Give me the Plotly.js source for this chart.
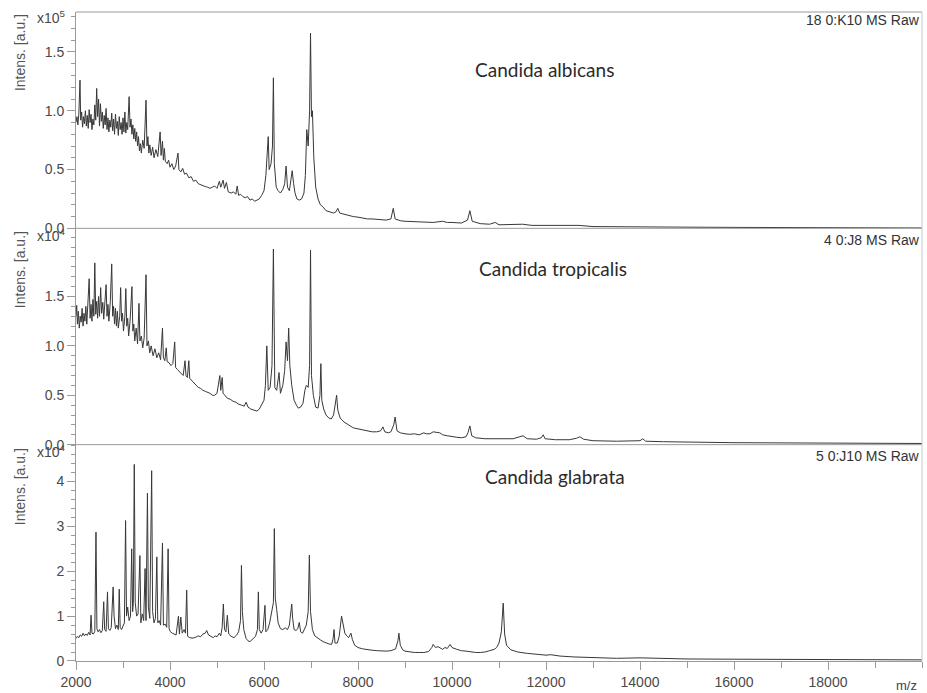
<!DOCTYPE html>
<html>
<head>
<meta charset="utf-8">
<script src="https://cdn.plot.ly/plotly-3.0.1.min.js"></script>
<style>html,body{margin:0;padding:0;background:#fff;}#chart{width:927px;height:693px;}</style>
</head>
<body>
<div id="chart"></div>
<script>
// ---- Data (m/z vs intensity, intensity in units of the panel exponent) ----
const albicansMz = [2000,2020,2040,2060,2085,2100,2120,2140,2160,2180,2200,2220,2240,2260,2280,2300,2320,2340,2360,2380,2400,2420,2440,2460,2480,2500,2520,2540,2560,2580,2600,2620,2640,2660,2680,2700,2720,2740,2760,2780,2800,2820,2840,2860,2880,2900,2920,2940,2960,2980,3000,3020,3040,3060,3080,3100,3130,3150,3170,3190,3210,3230,3250,3270,3290,3310,3330,3350,3370,3390,3420,3450,3490,3510,3530,3550,3570,3600,3630,3660,3700,3740,3790,3810,3840,3860,3880,3900,3940,3970,4000,4040,4080,4120,4170,4190,4230,4270,4310,4350,4400,4450,4500,4550,4600,4650,4700,4750,4800,4850,4900,4950,5000,5050,5080,5130,5160,5200,5240,5300,5350,5400,5430,5460,5500,5550,5600,5650,5700,5750,5800,5850,5900,5950,6000,6040,6070,6090,6110,6150,6180,6200,6220,6260,6300,6350,6400,6440,6470,6500,6540,6570,6600,6630,6660,6700,6750,6800,6850,6880,6910,6940,6970,6990,7010,7030,7060,7100,7150,7200,7260,7320,7400,7480,7530,7570,7610,7700,7800,7900,8000,8100,8200,8300,8400,8500,8600,8700,8750,8790,8900,9000,9200,9400,9600,9800,9900,10000,10200,10330,10380,10430,10600,10800,10920,11000,11200,11500,11700,12000,12400,12700,13000,13500,14000,15000,16000,17000,18000,19000,20000];
const albicansInt = [0.90,0.95,0.88,0.97,1.26,0.92,0.99,0.86,0.95,0.89,1.00,0.87,0.96,0.85,1.01,0.90,0.97,0.84,0.93,0.88,1.05,0.92,1.19,0.95,1.10,0.87,1.06,0.91,0.99,0.85,0.96,0.88,1.02,0.84,0.94,0.82,0.92,0.86,0.98,0.83,0.93,0.80,0.97,0.85,0.91,0.79,0.95,0.84,0.90,0.80,0.94,0.82,0.99,0.81,0.90,0.84,1.12,0.86,0.93,0.80,0.88,0.76,0.85,0.74,0.82,0.70,0.78,0.66,0.72,0.64,0.75,0.68,1.09,0.70,0.78,0.64,0.71,0.62,0.69,0.60,0.67,0.61,0.82,0.62,0.74,0.58,0.68,0.57,0.55,0.58,0.52,0.55,0.50,0.53,0.64,0.50,0.48,0.51,0.46,0.47,0.43,0.44,0.40,0.41,0.38,0.37,0.36,0.355,0.35,0.34,0.35,0.36,0.34,0.40,0.35,0.41,0.34,0.39,0.31,0.30,0.31,0.29,0.36,0.28,0.29,0.27,0.26,0.27,0.24,0.25,0.23,0.24,0.25,0.28,0.32,0.45,0.60,0.78,0.50,0.55,0.70,1.28,0.55,0.35,0.32,0.30,0.33,0.38,0.53,0.35,0.32,0.40,0.49,0.38,0.30,0.25,0.24,0.25,0.30,0.45,0.84,0.70,1.00,1.66,0.95,1.00,0.60,0.35,0.25,0.20,0.18,0.15,0.14,0.13,0.14,0.17,0.13,0.12,0.11,0.10,0.095,0.085,0.08,0.08,0.075,0.07,0.07,0.08,0.17,0.08,0.065,0.06,0.055,0.055,0.05,0.06,0.05,0.05,0.045,0.07,0.15,0.06,0.04,0.035,0.05,0.03,0.03,0.035,0.025,0.025,0.02,0.025,0.015,0.015,0.012,0.01,0.008,0.006,0.005,0.004,0.003];

const tropicalisMz = [2000,2015,2030,2050,2070,2090,2110,2130,2150,2170,2190,2210,2230,2250,2280,2300,2320,2340,2360,2380,2400,2420,2440,2460,2480,2500,2525,2545,2570,2590,2615,2640,2660,2680,2700,2730,2760,2780,2800,2820,2840,2860,2880,2900,2930,2950,2970,2990,3010,3040,3060,3080,3100,3120,3150,3190,3210,3230,3250,3280,3310,3340,3360,3390,3420,3450,3490,3510,3540,3570,3600,3640,3680,3720,3760,3800,3840,3860,3890,3920,3940,3980,4020,4060,4100,4120,4160,4200,4240,4280,4320,4340,4370,4400,4420,4460,4500,4550,4600,4650,4700,4750,4800,4850,4900,4950,5000,5060,5080,5110,5130,5170,5220,5280,5340,5400,5460,5520,5580,5620,5660,5720,5780,5850,5900,5950,6000,6030,6060,6090,6130,6170,6200,6230,6270,6320,6350,6400,6440,6470,6500,6525,6550,6590,6640,6690,6730,6780,6830,6870,6900,6940,6970,6990,7010,7050,7100,7150,7190,7210,7230,7270,7320,7380,7430,7480,7520,7545,7570,7620,7700,7800,7900,8000,8100,8200,8300,8400,8480,8530,8570,8650,8700,8760,8790,8830,8900,9000,9100,9200,9300,9400,9450,9530,9600,9740,9800,9900,10000,10100,10200,10300,10340,10380,10420,10500,10700,10900,11100,11300,11510,11600,11800,11900,11940,11980,12200,12500,12650,12720,12800,13000,13500,14000,14060,14120,14500,15000,16000,17000,18000,19000,20000];
const tropicalisInt = [1.30,1.41,1.22,1.35,1.18,1.30,1.24,1.38,1.20,1.33,1.25,1.40,1.22,1.36,1.68,1.28,1.42,1.25,1.47,1.30,1.84,1.32,1.45,1.28,1.50,1.30,1.59,1.33,1.44,1.27,1.48,1.62,1.30,1.42,1.25,1.45,1.83,1.30,1.40,1.22,1.38,1.20,1.35,1.18,1.30,1.59,1.25,1.33,1.15,1.30,1.58,1.20,1.28,1.10,1.25,1.60,1.15,1.22,1.05,1.18,1.02,1.43,1.05,1.10,0.98,1.08,1.72,1.00,1.05,0.93,1.00,0.90,0.97,0.88,0.93,0.86,1.18,0.88,0.85,0.98,0.84,0.83,0.80,0.82,1.04,0.78,0.76,0.74,0.73,0.70,0.85,0.70,0.68,0.85,0.67,0.65,0.62,0.60,0.58,0.57,0.55,0.54,0.53,0.52,0.50,0.50,0.52,0.70,0.55,0.68,0.52,0.50,0.47,0.46,0.44,0.43,0.41,0.40,0.39,0.43,0.38,0.36,0.35,0.34,0.36,0.40,0.45,0.60,1.00,0.55,0.58,0.80,1.98,0.58,0.55,0.73,0.52,0.60,0.75,1.04,0.85,1.18,0.80,0.60,0.45,0.40,0.37,0.38,0.42,0.55,0.60,0.58,0.80,1.97,0.70,0.50,0.38,0.37,0.50,0.82,0.45,0.36,0.30,0.27,0.26,0.30,0.40,0.50,0.35,0.27,0.23,0.20,0.17,0.16,0.15,0.14,0.13,0.13,0.14,0.18,0.13,0.12,0.13,0.20,0.28,0.14,0.12,0.11,0.105,0.11,0.10,0.12,0.11,0.11,0.13,0.12,0.10,0.09,0.08,0.075,0.07,0.08,0.12,0.19,0.09,0.07,0.06,0.06,0.055,0.06,0.09,0.06,0.055,0.07,0.10,0.06,0.05,0.05,0.065,0.08,0.055,0.04,0.035,0.04,0.06,0.035,0.03,0.025,0.02,0.018,0.015,0.013,0.012];

const glabrataMz = [2000,2030,2060,2090,2120,2150,2180,2210,2240,2270,2300,2320,2340,2370,2400,2425,2445,2470,2500,2530,2560,2590,2610,2640,2670,2690,2720,2750,2790,2810,2840,2870,2900,2920,2940,2970,3000,3030,3055,3075,3100,3130,3160,3185,3205,3220,3240,3260,3290,3320,3360,3380,3410,3440,3470,3490,3520,3540,3570,3610,3630,3660,3690,3720,3740,3770,3800,3840,3860,3900,3930,3960,3980,4010,4050,4090,4130,4180,4200,4230,4260,4300,4330,4355,4375,4420,4490,4550,4600,4650,4700,4750,4780,4820,4870,4920,4960,5000,5050,5080,5110,5135,5160,5190,5220,5250,5300,5360,5420,5460,5500,5520,5540,5570,5620,5660,5700,5760,5820,5860,5880,5900,5940,5980,6020,6040,6080,6120,6160,6200,6220,6240,6270,6300,6350,6400,6450,6500,6540,6570,6590,6610,6640,6680,6720,6750,6780,6820,6860,6900,6940,6965,6990,7030,7080,7150,7200,7260,7320,7380,7440,7470,7490,7510,7560,7600,7650,7680,7720,7760,7800,7850,7880,7930,8000,8100,8200,8300,8400,8500,8600,8700,8800,8850,8870,8900,8950,9000,9100,9200,9300,9400,9500,9570,9600,9650,9700,9750,9800,9850,9900,9960,10000,10100,10200,10300,10400,10500,10600,10700,10800,10900,10950,11000,11050,11090,11120,11160,11250,11400,11600,11800,12000,12100,12300,12600,13000,13500,14000,14500,15000,16000,17000,18000,19000,20000];
const glabrataInt = [0.50,0.55,0.52,0.58,0.55,0.62,0.56,0.60,0.57,0.64,0.58,1.02,0.62,0.60,0.66,2.87,0.72,0.65,0.70,0.63,0.68,1.32,0.70,0.66,1.54,0.72,0.68,0.75,1.65,1.00,0.72,0.80,0.70,1.60,0.75,0.70,0.78,0.85,3.13,1.00,1.20,0.90,1.00,2.50,1.10,1.30,4.38,1.30,1.00,1.05,2.35,0.85,1.05,0.90,2.06,0.90,3.74,1.20,0.95,4.24,1.10,0.85,0.95,2.32,0.85,0.90,0.80,2.63,0.80,0.82,0.75,2.50,0.72,0.65,0.62,0.60,0.58,1.00,0.60,0.98,0.62,0.70,0.62,1.58,0.55,0.52,0.51,0.53,0.56,0.54,0.60,0.62,0.68,0.58,0.55,0.52,0.56,0.54,0.62,0.56,0.75,1.27,0.70,0.65,1.02,0.60,0.55,0.52,0.58,0.65,0.90,2.13,1.10,0.70,0.50,0.45,0.43,0.48,0.55,0.70,1.54,0.70,0.62,0.70,1.24,0.65,0.70,0.85,1.10,1.30,2.95,1.40,1.15,0.85,0.72,0.70,0.74,0.70,0.80,1.10,1.27,0.95,0.70,0.68,0.72,0.86,0.65,0.62,0.70,0.80,1.10,2.36,1.10,0.70,0.56,0.50,0.47,0.43,0.40,0.38,0.37,0.50,0.70,0.40,0.40,0.55,1.00,0.80,0.62,0.56,0.52,0.62,0.48,0.35,0.30,0.27,0.25,0.24,0.23,0.22,0.22,0.23,0.27,0.45,0.62,0.35,0.25,0.22,0.20,0.19,0.19,0.19,0.21,0.30,0.37,0.30,0.32,0.28,0.26,0.30,0.28,0.37,0.30,0.26,0.23,0.22,0.20,0.19,0.19,0.20,0.23,0.26,0.30,0.40,0.65,1.29,0.60,0.35,0.25,0.20,0.17,0.15,0.13,0.14,0.11,0.09,0.07,0.06,0.07,0.05,0.045,0.04,0.035,0.03,0.028,0.025];

const xTickVals = [2000,4000,6000,8000,10000,12000,14000,16000,18000];
const xTickText = ["2000","4000","6000","8000","10000","12000","14000","16000","18000"];
const yTickValsAB = [0,0.5,1.0,1.5];
const yTickTextAB = ["0.0","0.5","1.0","1.5"];
const yTickValsG = [0,1,2,3,4];
const yTickTextG = ["0","1","2","3","4"];
const speciesNames = ["Candida albicans","Candida tropicalis","Candida glabrata"];
const spotLabels = ["18 0:K10 MS Raw","4 0:J8 MS Raw","5 0:J10 MS Raw"];
const exponents = ["5","4","4"];

// ---- Styling ----
const lineColor = '#383838';
const frameColor = '#9a9a9a';
const sansFamily = 'Liberation Sans, Arial, sans-serif';
const tickFont = {family:sansFamily, size:14, color:'#4a4a4a'};

function spectrumTrace(x, y, yaxis) {
  return {x:x, y:y, xaxis:'x', yaxis:yaxis, type:'scatter', mode:'lines',
          line:{color:lineColor, width:1}, hoverinfo:'skip', showlegend:false};
}

const traces = [
  spectrumTrace(glabrataMz, glabrataInt, 'y'),
  spectrumTrace(tropicalisMz, tropicalisInt, 'y2'),
  spectrumTrace(albicansMz, albicansInt, 'y3')
];

function yAxis(domain, range, vals, text, minorStep) {
  return {domain:domain, range:range, tickmode:'array', tickvals:vals, ticktext:text,
          ticks:'outside', ticklen:8, tickcolor:frameColor, tickwidth:1,
          showline:true, linecolor:frameColor, linewidth:1, showgrid:false, zeroline:false,
          tickfont:tickFont, anchor:'x', fixedrange:true,
          minor:{tickmode:'linear', tick0:0, dtick:minorStep, ticks:'outside', ticklen:4, tickcolor:frameColor, showgrid:false}};
}

const third = 1/3;
const layout = {
  width:927, height:693,
  margin:{l:76, r:5, t:12, b:32},
  paper_bgcolor:'#fff', plot_bgcolor:'#fff',
  showlegend:false,
  xaxis:{range:[2000,20000], anchor:'y', tickmode:'array', tickvals:xTickVals, ticktext:xTickText,
         ticks:'outside', ticklen:8, tickcolor:frameColor, showline:true, linecolor:frameColor,
         showgrid:false, zeroline:false, tickfont:tickFont, fixedrange:true,
         minor:{tickmode:'linear', tick0:2000, dtick:1000, ticks:'outside', ticklen:6, tickcolor:frameColor, showgrid:false}},
  yaxis: yAxis([0, third], [0, 4.82], yTickValsG, yTickTextG, 0.2),
  yaxis2: yAxis([third, 2*third], [0, 2.19], yTickValsAB, yTickTextAB, 0.1),
  yaxis3: yAxis([2*third, 1], [0, 1.84], yTickValsAB, yTickTextAB, 0.1),
  shapes:[
    {type:'line', xref:'paper', yref:'paper', x0:0, x1:1, y0:1, y1:1, line:{color:frameColor, width:1}},
    {type:'line', xref:'paper', yref:'paper', x0:0, x1:1, y0:2*third, y1:2*third, line:{color:frameColor, width:1}},
    {type:'line', xref:'paper', yref:'paper', x0:0, x1:1, y0:third, y1:third, line:{color:frameColor, width:1}},
    {type:'line', xref:'paper', yref:'paper', x0:1, x1:1, y0:0, y1:1, line:{color:'#c8c8c8', width:1}}
  ],
  annotations:[]
};

const speciesPos = [[0.554,0.912],[0.564,0.6055],[0.566,0.284]];
const spotY = [0.988,0.6487,0.3159];
const expY = [0.992,0.6564,0.3236];
const intensY = [0.937,0.6025,0.268];
for (let i=0;i<3;i++) {
  layout.annotations.push({text:speciesNames[i], xref:'paper', yref:'paper', x:speciesPos[i][0], y:speciesPos[i][1],
    xanchor:'center', yanchor:'middle', showarrow:false, font:{family:'Lato, Open Sans, sans-serif', size:19, color:'#2a2a2a'}});
  layout.annotations.push({text:spotLabels[i], xref:'paper', yref:'paper', x:1, y:spotY[i],
    xanchor:'right', yanchor:'middle', showarrow:false, font:{family:sansFamily, size:14, color:'#333'}});
  layout.annotations.push({text:'x10<sup>'+exponents[i]+'</sup>', xref:'paper', yref:'paper', x:-0.009, y:expY[i],
    xanchor:'right', yanchor:'middle', showarrow:false, font:{family:sansFamily, size:14, color:'#4a4a4a'}});
  layout.annotations.push({text:'Intens. [a.u.]', xref:'paper', yref:'paper', x:-0.066, y:intensY[i], textangle:-90,
    xanchor:'center', yanchor:'middle', showarrow:false, font:{family:sansFamily, size:14, color:'#555'}});
}
layout.annotations.push({text:'m/z', xref:'paper', yref:'paper', x:0.982, y:-0.0385, xanchor:'center', yanchor:'middle',
  showarrow:false, font:{family:sansFamily, size:13, color:'#444'}});

Plotly.newPlot('chart', traces, layout, {staticPlot:true, displayModeBar:false});
</script>
</body>
</html>
